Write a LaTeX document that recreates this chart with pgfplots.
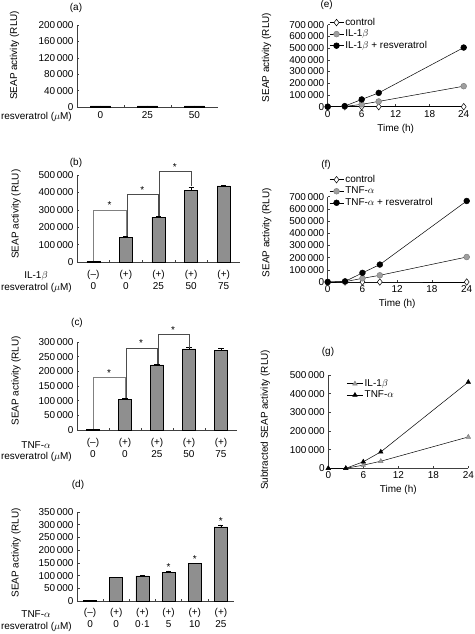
\documentclass[border=0pt]{standalone}
\usepackage{fontspec}
\setmainfont{Liberation Sans}
\usepackage{pgfplots}
\pgfplotsset{compat=1.18}
\definecolor{barfill}{gray}{0.56}
\definecolor{axcol}{gray}{0.25}
\pgfplotsset{
  base/.style={scale only axis, anchor=south west,
    axis x line*=bottom, axis y line*=left,
    axis line style={axcol, line width=0.6pt},
    tick style={axcol, line width=0.5pt}, tick align=inside, major tick length=2.5bp, minor tick length=2.5bp,
    ymin=0, scaled y ticks=false,
    yticklabel style={/pgf/number format/.cd, fixed, 1000 sep={\,}, assume math mode=true},
    xticklabel style={/pgf/number format/assume math mode=true},
    font=\fontsize{10}{12}\selectfont,
    ylabel style={anchor=center},
    clip=false},
  barax/.style={base, xmin=-0.5, xmax=#1-0.5, major x tick style={draw=none},
    xticklabel style={align=center, font=\fontsize{10}{12}\selectfont}},
  bars/.style={ybar, bar width=#1, fill=barfill, draw=black, line width=0.5pt,
    error bars/.cd, y dir=plus, y explicit, error bar style={black, line width=0.5pt},
    error mark options={rotate=90, mark size=2.5bp, black}},
  brk/.style={sharp plot, no marks, black!70, line width=0.6pt},
  timeax/.style={base, xmin=0, xmax=24, xtick={0,6,12,18,24}, xlabel={Time (h)},
    legend cell align=left,
    legend style={draw=none, fill=none, font=\fontsize{10}{11}\selectfont, row sep=0pt, inner sep=0pt, nodes={inner sep=1.5bp}},
    legend image code/.code={\draw[mark repeat=2,mark phase=2] plot coordinates {(0bp,0bp) (7bp,0bp) (14bp,0bp)};}},
  lctrl/.style={black, line width=0.5pt, mark=diamond*, mark size=3.3bp, mark options={fill=white, draw=black}},
  lcyt/.style={black, line width=0.5pt, mark=*, mark size=2.9bp, mark options={fill=gray!75, draw=gray}},
  lres/.style={black, line width=0.5pt, mark=*, mark size=2.9bp, mark options={fill=black, draw=black}},
}
\begin{document}
\begin{tikzpicture}
\useasboundingbox (0,0) rectangle (475bp,-634bp);
\tikzset{lab/.style={font=\fontsize{10}{12}\selectfont, inner sep=0pt}}
% ---------------- (a)
\begin{axis}[barax=3, at={(77bp,-107bp)}, width=141bp, height=82bp,
  ymax=200000, ytick={0,40000,80000,120000,160000,200000},
  xtick={0,1,2}, xticklabels={0,25,50}, minor xtick={0.5,1.5},
  xticklabel style={yshift=-1.5bp},
  ylabel={SEAP activity (RLU)}, ylabel style={at={(axis description cs:-0.443,0.63)}}]
\addplot[bars=20bp] coordinates {(0,2500) +- (0,300) (1,2500) +- (0,300) (2,2500) +- (0,300)};
\end{axis}
\node[lab, anchor=east] at (72bp,-117bp) {resveratrol ($\mu$M)};
\node[lab] at (76bp,-8bp) {(a)};
% ---------------- (b)
\begin{axis}[barax=5, at={(77bp,-262bp)}, width=163bp, height=87bp,
  ymax=500000, ytick={0,100000,...,500000},
  xtick={0,...,4}, xticklabels={{(--)\\0},{(+)\\0},{(+)\\25},{(+)\\50},{(+)\\75}}, minor xtick={0.5,1.5,2.5,3.5},
  xticklabel style={yshift=-5bp},
  ylabel={SEAP activity (RLU)}, ylabel style={at={(axis description cs:-0.374,0.55)}}]
\addplot[bars=13bp] coordinates {(0,3000) +- (0,500) (1,140000) +- (0,8000) (2,258000) +- (0,4000) (3,410000) +- (0,22000) (4,437000) +- (0,4000)};
\addplot[brk, black!50] coordinates {(0,4000) (0,300000) (1,300000) (1,150000)};
\addplot[brk] coordinates {(1.03,150000) (1.03,390000) (2,390000) (2,264000)};
\addplot[brk] coordinates {(2.03,264000) (2.03,520000) (3,520000) (3,434000)};
\node[lab, anchor=south] at (axis cs:0.5,304000) {*};
\node[lab, anchor=south] at (axis cs:1.5,394000) {*};
\node[lab, anchor=south] at (axis cs:2.5,524000) {*};
\end{axis}
\node[lab] at (36bp,-276bp) {IL-1$\beta$};
\node[lab, anchor=east] at (72bp,-288bp) {resveratrol ($\mu$M)};
\node[lab] at (76bp,-163bp) {(b)};
% ---------------- (c)
\begin{axis}[barax=5, at={(77bp,-430bp)}, width=160bp, height=88bp,
  ymax=300000, ytick={0,50000,...,300000},
  xtick={0,...,4}, xticklabels={{(--)\\0},{(+)\\0},{(+)\\25},{(+)\\50},{(+)\\75}}, minor xtick={0.5,1.5,2.5,3.5},
  xticklabel style={yshift=-5bp},
  ylabel={SEAP activity (RLU)}, ylabel style={at={(axis description cs:-0.381,0.557)}}]
\addplot[bars=13bp] coordinates {(0,3000) +- (0,1000) (1,104000) +- (0,4000) (2,222000) +- (0,4000) (3,277000) +- (0,4000) (4,271000) +- (0,9000)};
\addplot[brk, black!50] coordinates {(0,4000) (0,178000) (1,178000) (1,108000)};
\addplot[brk] coordinates {(1.03,108000) (1.03,280000) (2,280000) (2,226000)};
\addplot[brk] coordinates {(2.03,226000) (2.03,325000) (3,325000) (3,281000)};
\node[lab, anchor=south] at (axis cs:0.5,181000) {*};
\node[lab, anchor=south] at (axis cs:1.5,283000) {*};
\node[lab, anchor=south] at (axis cs:2.5,328000) {*};
\end{axis}
\node[lab] at (36bp,-445bp) {TNF-$\alpha$};
\node[lab, anchor=east] at (72bp,-457bp) {resveratrol ($\mu$M)};
\node[lab] at (77bp,-323bp) {(c)};
% ---------------- (d)
\begin{axis}[barax=6, at={(77bp,-601bp)}, width=157bp, height=89bp,
  ymax=350000, ytick={0,50000,...,350000},
  xtick={0,...,5}, xticklabels={{(--)\\0},{(+)\\0},{(+)\\0·1},{(+)\\5},{(+)\\10},{(+)\\25}}, minor xtick={0.5,1.5,2.5,3.5,4.5},
  xticklabel style={yshift=-4bp},
  ylabel={SEAP activity (RLU)}, ylabel style={at={(axis description cs:-0.389,0.54)}}]
\addplot[bars=13bp] coordinates {(0,2000) +- (0,500) (1,92000) +- (0,2000) (2,99000) +- (0,2000) (3,114000) +- (0,5000) (4,147000) +- (0,1500) (5,292000) +- (0,8000)};
\node[lab, anchor=south] at (axis cs:3,121000) {*};
\node[lab, anchor=south] at (axis cs:4,151000) {*};
\node[lab, anchor=south] at (axis cs:5,302000) {*};
\end{axis}
\node[lab] at (36bp,-614bp) {TNF-$\alpha$};
\node[lab, anchor=east] at (72bp,-626.5bp) {resveratrol ($\mu$M)};
\node[lab] at (78bp,-485bp) {(d)};
% ---------------- (e)
\begin{axis}[timeax, at={(327.7bp,-106.7bp)}, width=136bp, height=82bp,
  ymax=700000, ytick={0,100000,...,700000},
  ylabel={SEAP activity (RLU)}, ylabel style={at={(axis description cs:-0.449,0.6)}},
  legend style={at={(axis description cs:0.01,1.1)}, anchor=north west}]
\addplot[lctrl] coordinates {(0,0) (3,0) (6,0) (9,0) (24,0)};
\addlegendentry{control}
\addplot[lcyt] coordinates {(0,0) (3,2000) (6,20000) (9,45000) (24,175000)};
\addlegendentry{IL-1$\beta$}
\addplot[lres] coordinates {(0,0) (3,5000) (6,62000) (9,118000) (24,505000)};
\addlegendentry{IL-1$\beta$ + resveratrol}
\end{axis}
\node[lab] at (326.7bp,-5bp) {(e)};
% ---------------- (f)
\begin{axis}[timeax, at={(327.7bp,-282bp)}, width=139bp, height=85.3bp,
  ymax=700000, ytick={0,100000,...,700000},
  ylabel={SEAP activity (RLU)}, ylabel style={at={(axis description cs:-0.439,0.58)}},
  legend style={at={(axis description cs:0.01,1.27)}, anchor=north west}]
\addplot[lctrl] coordinates {(0,0) (3,0) (6,0) (9,0) (24,0)};
\addlegendentry{control}
\addplot[lcyt] coordinates {(0,0) (3,3000) (6,30000) (9,55000) (24,205000)};
\addlegendentry{TNF-$\alpha$}
\addplot[lres] coordinates {(0,0) (3,5000) (6,75000) (9,143000) (24,665000)};
\addlegendentry{TNF-$\alpha$ + resveratrol}
\end{axis}
\node[lab] at (326bp,-165bp) {(f)};
% ---------------- (g)
\begin{axis}[timeax, at={(328.3bp,-468.3bp)}, width=140bp, height=93.3bp,
  ymax=500000, ytick={0,100000,...,500000},
  ylabel={Subtracted SEAP activity (RLU)}, ylabel style={at={(axis description cs:-0.45,0.52)}},
  legend style={at={(axis description cs:0.13,0.97)}, anchor=north west},
  legend image code/.code={\draw[mark repeat=2,mark phase=2] plot coordinates {(0bp,0bp) (8bp,0bp) (16bp,0bp)};}]
\addplot[black, line width=0.5pt, mark=triangle*, mark size=2.6bp, mark options={fill=gray!75, draw=gray}] coordinates {(0,0) (3,0) (6,17000) (9,38000) (24,168000)};
\addlegendentry{IL-1$\beta$}
\addplot[black, line width=0.5pt, mark=triangle*, mark size=2.6bp, mark options={fill=black}] coordinates {(0,0) (3,0) (6,35000) (9,88000) (24,462000)};
\addlegendentry{TNF-$\alpha$}
\end{axis}
\node[lab] at (328bp,-352bp) {(g)};
\end{tikzpicture}
\end{document}
